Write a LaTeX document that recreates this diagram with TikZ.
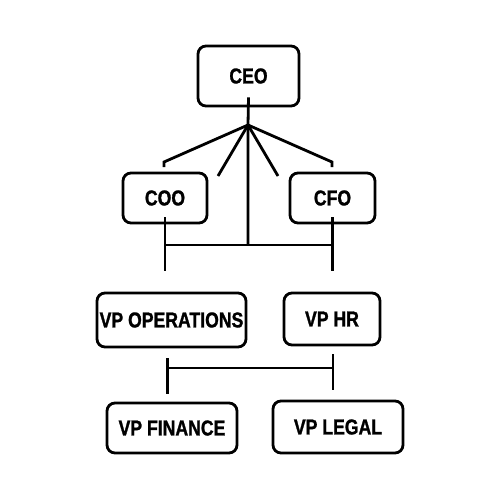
\documentclass[tikz,border=0pt]{standalone}
\usepackage{fontspec}
\newfontfamily\orgfont{Liberation Sans}[FakeStretch=0.82,FakeBold=1.2]
\tikzset{every picture/.style={line width=2.8pt}}
\tikzset{
  orgbox/.style={draw, rounded corners=8pt, inner sep=1pt, font=\orgfont\bfseries\fontsize{21.5}{24}\selectfont},
}
\begin{document}
\begin{tikzpicture}[x=1pt,y=1pt,yscale=-1,xscale=1]
        \useasboundingbox (0,0) rectangle (500,500);
        
        %Boxes
        \node [orgbox, minimum width=101pt, minimum height=60pt] (ceo) at (248.5,76) {CEO};
        \node [orgbox, minimum width=84pt, minimum height=50pt] (coo) at (165,198) {COO};
        \node [orgbox, minimum width=85pt, minimum height=50pt] (cfo) at (332.5,198) {CFO};
        \node [orgbox, minimum width=149pt, minimum height=54pt] (vpops) at (171.5,320) {VP OPERATIONS};
        \node [orgbox, minimum width=96pt, minimum height=52pt] (vphr) at (332,319) {VP HR};
        \node [orgbox, minimum width=130pt, minimum height=50pt] (vpfin) at (172,428) {VP FINANCE};
        \node [orgbox, minimum width=130pt, minimum height=52pt] (vplegal) at (338,427) {VP LEGAL};
        
        %Fan below CEO
        \coordinate (apex) at (248,125);
        \coordinate (fanA) at (164,162);
        \coordinate (fanB) at (218,176);
        \coordinate (fanC) at (278,176);
        \coordinate (fanD) at (332,162);
        \coordinate (bar1) at (248,245);
        \draw ([yshift=-10pt]ceo.south) -- (apex) -- (bar1);
        \draw (apex) -- (fanA) -- ++(0,5);
        \draw (apex) -- (fanB);
        \draw (apex) -- (fanC);
        \draw (apex) -- (fanD) -- ++(0,5);
        
        %Bar between COO and CFO
        \draw (coo.south |- bar1) -- (cfo.south |- bar1);
        \draw ([yshift=-7pt]coo.south) -- ++(0,54);
        \draw ([yshift=-7pt]cfo.south) -- ++(0,54);
        
        %Bar between VP levels
        \coordinate (bar2) at (250,368);
        \draw ([shift={(-4,10)}]vpops.south) -- ++(0,36);
        \draw ([shift={(1,8)}]vphr.south) -- ++(0,36);
        \draw ([xshift=-4pt]vpops.south |- bar2) -- ([xshift=1pt]vphr.south |- bar2);
  
\end{tikzpicture}
\end{document}
